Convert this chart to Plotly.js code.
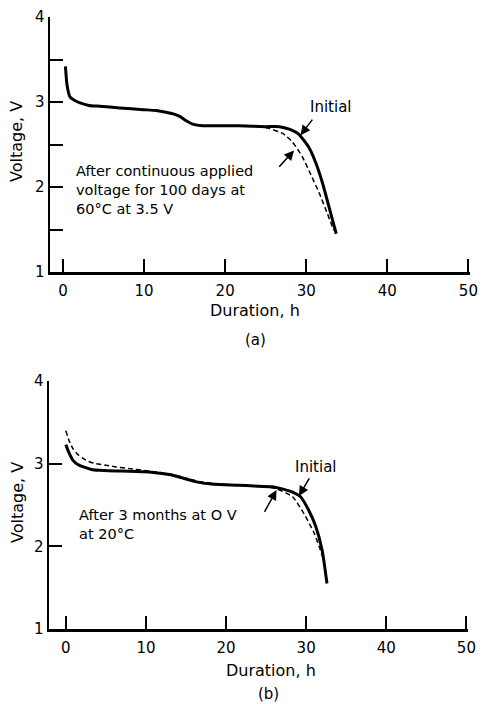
<!DOCTYPE html>
<html><head><meta charset="utf-8">
<script src="https://cdn.plot.ly/plotly-3.0.1.min.js"></script>
<style>html,body{margin:0;padding:0;background:#fff}#c{width:482px;height:704px}</style>
</head><body><div id="c"></div>
<script>
// Panel (a) data
const aInitialH = [0.3, 0.5, 0.86, 1.4, 2.1, 3.2, 4.5, 7, 9.9, 11.5, 12.7, 13.6, 14.4, 15.2, 16, 17.2, 18.9, 21.7, 25, 26.7, 27.9, 29.1, 30.3, 31.2, 32, 32.8, 33.7];
const aInitialV = [3.42, 3.2, 3.06, 3.02, 2.99, 2.96, 2.95, 2.93, 2.91, 2.90, 2.88, 2.86, 2.83, 2.78, 2.74, 2.72, 2.72, 2.72, 2.71, 2.71, 2.68, 2.62, 2.47, 2.28, 2.05, 1.77, 1.45];
const aAfterH = [24, 25.4, 27.1, 28.3, 29.5, 30.5, 31.6, 32.6, 33.4];
const aAfterV = [2.71, 2.69, 2.63, 2.53, 2.36, 2.16, 1.93, 1.69, 1.49];

// Panel (b) data
const bInitialH = [0, 0.4, 0.9, 1.5, 2.2, 3.2, 4.2, 7, 10.4, 12, 13.3, 14.8, 16.3, 18.5, 21.6, 23.5, 25.8, 27.9, 29.3, 30.3, 31.2, 32, 32.6];
const bInitialV = [3.23, 3.13, 3.04, 2.99, 2.96, 2.93, 2.92, 2.91, 2.90, 2.88, 2.86, 2.82, 2.78, 2.75, 2.74, 2.73, 2.72, 2.67, 2.60, 2.44, 2.24, 1.95, 1.55];
const bAfterH = [0, 0.4, 0.9, 1.5, 2.2, 3.0, 3.8, 5, 6.3, 8, 10.4, 12, 13.3, 14.8, 16.3, 18.5, 21.6, 23.5, 26.2, 28.3, 29.7, 31, 31.8, 32.2];
const bAfterV = [3.40, 3.28, 3.18, 3.11, 3.06, 3.02, 3.00, 2.98, 2.96, 2.94, 2.91, 2.89, 2.87, 2.83, 2.79, 2.76, 2.74, 2.73, 2.70, 2.60, 2.40, 2.16, 1.95, 1.83];

// Axis ticks
const xTickVals = [0, 10, 20, 30, 40, 50];
const xTickText = ["0", "10", "20", "30", "40", "50"];
const aYTickVals = [1, 1.5, 2, 2.5, 3, 3.5, 4];
const aYTickText = ["1", "", "2", "", "3", "", "4"];
const bYTickVals = [1, 2, 3, 4];
const bYTickText = ["1", "2", "3", "4"];

// Labels
const xTitle = "Duration, h";
const yTitle = "Voltage, V";
const aLabel = "(a)";
const bLabel = "(b)";
const initialLabel = "Initial";
const aAfterLabel = "After continuous applied<br>voltage for 100 days at<br>60°C at 3.5 V";
const bAfterLabel = "After 3 months at O V<br>at 20°C";

const FONT = "DejaVu Sans, sans-serif";
const W = 482, H = 704;
const px = v => v / W, py = v => 1 - v / H;

const solid = {color: "#000", width: 3, shape: "spline", smoothing: 0.5};
const dashed = {color: "#000", width: 1.5, dash: "5px,3px", shape: "spline", smoothing: 0.5};

const traces = [
  {x: aInitialH, y: aInitialV, mode: "lines", line: solid, xaxis: "x", yaxis: "y", showlegend: false},
  {x: aAfterH, y: aAfterV, mode: "lines", line: dashed, xaxis: "x", yaxis: "y", showlegend: false},
  {x: bInitialH, y: bInitialV, mode: "lines", line: solid, xaxis: "x2", yaxis: "y2", showlegend: false},
  {x: bAfterH, y: bAfterV, mode: "lines", line: dashed, xaxis: "x2", yaxis: "y2", showlegend: false}
];

const axCommon = {
  showline: true, linecolor: "#000", linewidth: 2.5, showgrid: false, zeroline: false,
  ticks: "inside", ticklen: 13, tickwidth: 2, tickcolor: "#000",
  tickfont: {family: FONT, size: 15, color: "#000"}, fixedrange: true, tickmode: "array"
};

const tf = (s) => ({family: FONT, size: s, color: "#000"});
const arrow = {text: "", showarrow: true, arrowhead: 2, arrowsize: 1.3, arrowwidth: 1.5, arrowcolor: "#000"};

const layout = {
  width: W, height: H, margin: {l: 0, r: 0, t: 0, b: 0},
  paper_bgcolor: "#fff", plot_bgcolor: "#fff", showlegend: false,
  xaxis: Object.assign({}, axCommon, {domain: [px(50), px(470)], range: [-1.6, 50.2], anchor: "y",
    tickvals: xTickVals, ticktext: xTickText, ticklabelstandoff: 3}),
  yaxis: Object.assign({}, axCommon, {domain: [py(272), py(17)], range: [1, 4], anchor: "x",
    tickvals: aYTickVals, ticktext: aYTickText}),
  xaxis2: Object.assign({}, axCommon, {domain: [px(49), px(468)], range: [-2.1, 50.2], anchor: "y2",
    tickvals: xTickVals, ticktext: xTickText, ticklabelstandoff: 3}),
  yaxis2: Object.assign({}, axCommon, {domain: [py(629), py(381)], range: [1, 4], anchor: "x2",
    tickvals: bYTickVals, ticktext: bYTickText}),
  annotations: [
    {xref: "paper", yref: "paper", x: px(255), y: py(310), xanchor: "center", yanchor: "middle", text: xTitle, showarrow: false, font: tf(16)},
    {xref: "paper", yref: "paper", x: px(255), y: py(340), xanchor: "center", yanchor: "middle", text: aLabel, showarrow: false, font: tf(15)},
    {xref: "paper", yref: "paper", x: px(17), y: py(142), xanchor: "center", yanchor: "middle", text: yTitle, textangle: -90, showarrow: false, font: tf(16)},
    {xref: "paper", yref: "paper", x: px(271), y: py(670), xanchor: "center", yanchor: "middle", text: xTitle, showarrow: false, font: tf(16)},
    {xref: "paper", yref: "paper", x: px(268), y: py(694), xanchor: "center", yanchor: "middle", text: bLabel, showarrow: false, font: tf(15)},
    {xref: "paper", yref: "paper", x: px(17), y: py(503), xanchor: "center", yanchor: "middle", text: yTitle, textangle: -90, showarrow: false, font: tf(16)},
    // panel a annotations
    {xref: "x", yref: "y", x: 33.0, y: 2.94, text: initialLabel, showarrow: false, font: tf(15)},
    Object.assign({xref: "x", yref: "y", x: 29.3, y: 2.61, axref: "x", ayref: "y", ax: 30.9, ay: 2.81}, arrow),
    Object.assign({xref: "x", yref: "y", x: 28.5, y: 2.43, axref: "x", ayref: "y", ax: 26.5, ay: 2.22}, arrow),
    {xref: "x", yref: "y", x: 1.35, y: 1.96, text: aAfterLabel, align: "left", xanchor: "left", yanchor: "middle", showarrow: false, font: tf(14.5)},
    // panel b annotations
    {xref: "x2", yref: "y2", x: 31.2, y: 2.96, text: initialLabel, showarrow: false, font: tf(15)},
    Object.assign({xref: "x2", yref: "y2", x: 29.1, y: 2.61, axref: "x2", ayref: "y2", ax: 30.5, ay: 2.84}, arrow),
    Object.assign({xref: "x2", yref: "y2", x: 26.3, y: 2.68, axref: "x2", ayref: "y2", ax: 24.7, ay: 2.40}, arrow),
    {xref: "x2", yref: "y2", x: 1.37, y: 2.26, text: bAfterLabel, align: "left", xanchor: "left", yanchor: "middle", showarrow: false, font: tf(14.5)}
  ]
};

Plotly.newPlot("c", traces, layout, {staticPlot: true, displayModeBar: false});
</script>
</body></html>
